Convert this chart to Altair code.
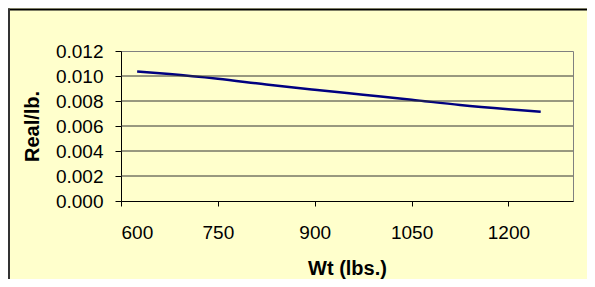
import altair as alt
import pandas as pd

# ---- data ----
wt = [625, 675, 750, 825, 900, 975, 1050, 1125, 1200, 1250]
real_per_lb = [0.01036, 0.01016, 0.00978, 0.00932, 0.00890, 0.00850,
               0.00810, 0.00768, 0.00734, 0.00714]
x_ticks = [600, 750, 900, 1050, 1200]
y_ticks = [0.000, 0.002, 0.004, 0.006, 0.008, 0.010, 0.012]
y_grid = [0.002, 0.004, 0.006, 0.008, 0.010]

FONT = "Liberation Sans, Arial, sans-serif"

df = pd.DataFrame({"Wt": wt, "Real": real_per_lb})
grid_df = pd.DataFrame({"g": y_grid})
one = pd.DataFrame({"a": [0]})

xscale = alt.Scale(domain=[600, 1300], nice=False, zero=False)
yscale = alt.Scale(domain=[0, 0.012], nice=False)

x_axis = alt.Axis(values=x_ticks, format="d", title="Wt (lbs.)", grid=False,
                  domainColor="black", tickColor="black", tickSize=5,
                  labelPadding=17, labelFontSize=19, labelFont=FONT,
                  labelColor="black", titleFont=FONT, titleFontSize=20,
                  titleFontWeight="bold", titleColor="black",
                  titleY=73, titleBaseline="alphabetic")
y_axis = alt.Axis(values=y_ticks, format=".3f", title="Real/lb.", grid=False,
                  domainColor="black", tickColor="black", tickSize=6,
                  labelPadding=12, labelFontSize=19, labelFont=FONT,
                  labelColor="black", titleFont=FONT, titleFontSize=20,
                  titleFontWeight="bold", titleColor="black",
                  titleX=-83, titleY=75, titleAngle=270,
                  titleBaseline="alphabetic")

line = alt.Chart(df).mark_line(color="#000080", strokeWidth=2.5, interpolate="monotone").encode(
    x=alt.X("Wt:Q", scale=xscale, axis=x_axis),
    y=alt.Y("Real:Q", scale=yscale, axis=y_axis),
)

grid = alt.Chart(grid_df).mark_rule(color="#333333", strokeWidth=1).encode(
    y=alt.Y("g:Q", scale=yscale, axis=y_axis)
)

top_border = alt.Chart(one).mark_rule(color="black", strokeWidth=2).encode(
    x=alt.value(-113), x2=alt.value(480), y=alt.value(-41.5)
)
left_border = alt.Chart(one).mark_rule(color="#333333", strokeWidth=2).encode(
    x=alt.value(-112), y=alt.value(-42.5), y2=alt.value(240)
)

chart = alt.layer(line, grid, top_border, left_border).properties(
    width=452, height=150,
    padding={"left": 113, "top": 43, "right": 14, "bottom": 78},
    autosize=alt.AutoSizeParams(type="none"),
    background="#FFFFCC",
).configure_view(stroke="#808080", strokeWidth=1)

chart.save("out.html", embed_options={"renderer": "svg", "actions": False})
